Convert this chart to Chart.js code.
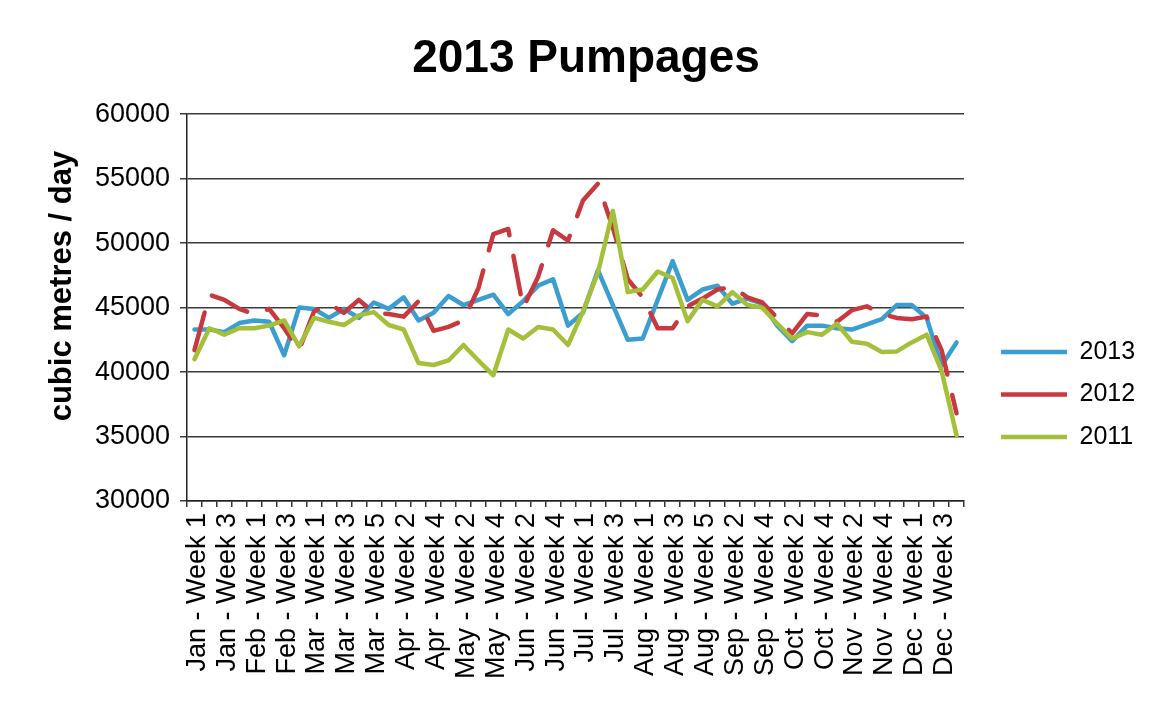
<!DOCTYPE html>
<html>
<head>
<meta charset="utf-8">
<title>2013 Pumpages</title>
<script src="https://cdn.jsdelivr.net/npm/chart.js@4.4.1/dist/chart.umd.min.js"></script>
<style>
  html, body { margin: 0; padding: 0; background: #ffffff; }
  #wrap { width: 1157px; height: 705px; }
</style>
</head>
<body>
<div id="wrap"><canvas id="c" width="1157" height="705"></canvas></div>
<script>
// ---- data ----
const categories = [
  'Jan - Week 1','Jan - Week 2','Jan - Week 3','Jan - Week 4',
  'Feb - Week 1','Feb - Week 2','Feb - Week 3','Feb - Week 4',
  'Mar - Week 1','Mar - Week 2','Mar - Week 3','Mar - Week 4','Mar - Week 5',
  'Apr - Week 1','Apr - Week 2','Apr - Week 3','Apr - Week 4',
  'May - Week 1','May - Week 2','May - Week 3','May - Week 4',
  'Jun - Week 1','Jun - Week 2','Jun - Week 3','Jun - Week 4','Jun - Week 5',
  'Jul - Week 1','Jul - Week 2','Jul - Week 3','Jul - Week 4',
  'Aug - Week 1','Aug - Week 2','Aug - Week 3','Aug - Week 4','Aug - Week 5',
  'Sep - Week 1','Sep - Week 2','Sep - Week 3','Sep - Week 4',
  'Oct - Week 1','Oct - Week 2','Oct - Week 3','Oct - Week 4',
  'Nov - Week 1','Nov - Week 2','Nov - Week 3','Nov - Week 4','Nov - Week 5',
  'Dec - Week 1','Dec - Week 2','Dec - Week 3','Dec - Week 4'
];

const series2013 = [
  43300, 43300, 43100, 43800, 44000, 43900, 41300, 45000,
  44900, 44200, 44900, 44200, 45400,
  44900, 45800, 44000, 44600,
  45900, 45200, 45600, 46000,
  44500, 45500, 46700, 47200, 43600,
  44600, 47900, 45200, 42500,
  42600, 45600, 48600, 45600, 46400,
  46700, 45300, 45700, 45300,
  43600, 42400, 43600, 43600,
  43400, 43300, 43700, 44100, 45200,
  45200, 44200, 40500, 42300
];

const series2012 = [
  41700, 46000, 45600, 44900, 44500, 44900, 43400, 41700,
  44700, 45300, 44600, 45600, 44600,
  44500, 44300, 45500, 43200,
  43500, 44000, 46500, 50700,
  51100, 45000, 47400, 51000, 50200,
  53300, 54600, 51200, 47200,
  45800, 43400, 43400, 45100, 45700,
  46400, 46600, 45800, 45400,
  44200, 43000, 44500, 44400,
  43900, 44800, 45100, 44500, 44200,
  44100, 44300, 41700, 36800
];

const series2011 = [
  41000, 43400, 42900, 43400, 43400, 43600, 44000, 42000,
  44200, 43900, 43650, 44400, 44650,
  43650, 43300, 40700, 40550,
  40900, 42100, 40900, 39750,
  43300, 42600, 43500, 43300, 42100,
  44700, 47700, 52500, 46200,
  46400, 47800, 47300, 43950, 45600,
  45100, 46200, 45200, 45000,
  43750, 42600, 43100, 42900,
  43750, 42350, 42200, 41550, 41600,
  42300, 42900, 40100, 35100
];

const seriesNames = ['2013', '2012', '2011'];
const yTicks = [30000, 35000, 40000, 45000, 50000, 55000, 60000];

// ---- styling / layout constants ----
const FONT = "'Liberation Sans', Arial, Helvetica, sans-serif";
const COLORS = ['#3b9ed0', '#c8383f', '#a4c03a'];
const LEGEND_LINE_X = 1001;
const LEGEND_FIRST_Y = 352;
const LEGEND_FONT = 25;
const LEGEND_PAD = 17.5;
const TITLE_CENTER_X = 586;

const placeBoxes = {
  id: 'placeBoxes',
  afterLayout(chart) {
    const l = chart.legend;
    if (l) {
      l.left = LEGEND_LINE_X - LEGEND_PAD;
      l.width = 190;
      l.right = l.left + l.width;
      l.top = LEGEND_FIRST_Y - LEGEND_FONT / 2 - LEGEND_PAD;
      l.bottom = l.top + l.height;
    }
    const t = chart.titleBlock;
    if (t) {
      const w = t.right - t.left;
      t.left = TITLE_CENTER_X - w / 2;
      t.right = t.left + w;
    }
  }
};

const seriesData = [series2013, series2012, series2011];
const datasets = seriesNames.map((name, i) => ({
  label: name,
  data: seriesData[i],
  borderColor: COLORS[i],
  backgroundColor: COLORS[i],
  borderWidth: 4.5,
  borderCapStyle: 'round',
  borderJoinStyle: 'round',
  borderDash: name === '2012' ? [39, 21] : [],
  pointRadius: 0,
  pointHoverRadius: 0,
  tension: 0,
  fill: false,
  order: 2 - i
}));

new Chart(document.getElementById('c'), {
  type: 'line',
  data: { labels: categories, datasets },
  plugins: [placeBoxes],
  options: {
    responsive: false,
    animation: false,
    devicePixelRatio: 1,
    layout: { padding: { left: 0, right: 53, top: 0, bottom: 0 } },
    plugins: {
      tooltip: { enabled: false },
      title: {
        display: true,
        text: '2013 Pumpages',
        color: '#000',
        font: { family: FONT, size: 46, weight: 'bold' },
        padding: { top: 32, bottom: 27 }
      },
      legend: {
        display: true,
        position: 'right',
        align: 'start',
        maxWidth: 140,
        labels: {
          color: '#000',
          font: { family: FONT, size: LEGEND_FONT },
          usePointStyle: true,
          pointStyle: 'line',
          pointStyleWidth: 66,
          padding: LEGEND_PAD,
          sort: (a, b) => a.datasetIndex - b.datasetIndex
        }
      }
    },
    scales: {
      x: {
        type: 'category',
        offset: true,
        grid: {
          offset: true,
          drawOnChartArea: false,
          drawTicks: true,
          tickLength: 6,
          color: '#333',
          lineWidth: 1.5
        },
        border: { display: true, color: '#222', width: 1.5 },
        ticks: {
          autoSkip: false,
          minRotation: 90,
          maxRotation: 90,
          padding: 6,
          labelOffset: 3,
          color: '#000',
          font: { family: FONT, size: 27 },
          callback: function (v, i) { return i % 2 === 0 ? this.getLabelForValue(v) : ''; }
        },
        afterFit: (s) => { s.height = 204; }
      },
      y: {
        min: yTicks[0],
        max: yTicks[yTicks.length - 1],
        afterBuildTicks: (s) => { s.ticks = yTicks.map(v => ({ value: v })); },
        grid: {
          color: '#3a3a3a',
          lineWidth: 1.5,
          drawTicks: true,
          tickLength: 7
        },
        border: { display: true, color: '#222', width: 1.5 },
        ticks: {
          padding: 10,
          color: '#000',
          font: { family: FONT, size: 27 },
          callback: (v) => String(v)
        },
        title: {
          display: true,
          text: '     cubic metres / day',
          color: '#000',
          font: { family: FONT, size: 31, weight: 'bold' },
          padding: { top: 44, bottom: 0 }
        },
        afterFit: (s) => { s.width = 187; }
      }
    }
  }
});
</script>
</body>
</html>
